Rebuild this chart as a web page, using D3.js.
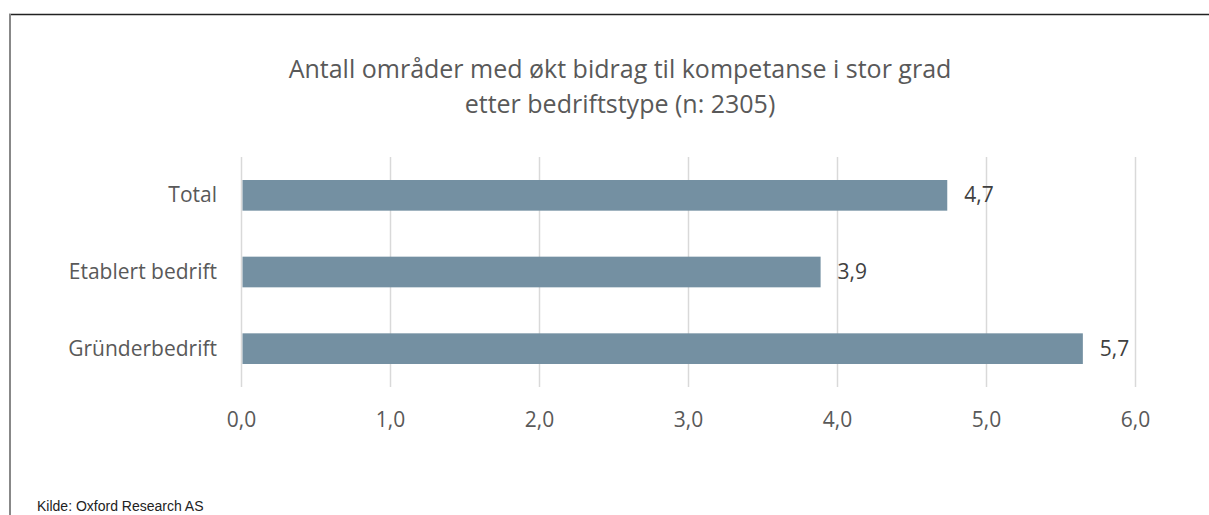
<!DOCTYPE html>
<html>
<head>
<meta charset="utf-8">
<script src="https://cdnjs.cloudflare.com/ajax/libs/d3/7.8.5/d3.min.js"></script>
<style>
  body { margin: 0; background: #fff; }
  #chart { width: 1209px; height: 515px; }
</style>
</head>
<body>
<div id="chart"></div>
<script>
var categories = ["Total", "Etablert bedrift", "Gründerbedrift"];
var values = [4.74, 3.89, 5.65];
var valueLabels = ["4,7", "3,9", "5,7"];
var xTicks = [0, 1, 2, 3, 4, 5, 6];
var titleLines = ["Antall områder med økt bidrag til kompetanse i stor grad", "etter bedriftstype (n: 2305)"];
var sourceText = "Kilde: Oxford Research AS";

var width = 1209, height = 515;
var font = "'Open Sans', 'Noto Sans', sans-serif";

var svg = d3.select("#chart")
  .append("svg")
  .attr("width", width)
  .attr("height", height);

// frame
svg.append("line")
  .attr("x1", 9).attr("x2", width).attr("y1", 14.5).attr("y2", 14.5)
  .attr("stroke", "#222").attr("stroke-width", 1.3);
svg.append("line")
  .attr("x1", 10).attr("x2", 10).attr("y1", 14).attr("y2", height)
  .attr("stroke", "#888").attr("stroke-width", 2);

var xScale = d3.scaleLinear().domain([0, 6]).range([241, 1135]);
var yScale = d3.scaleBand()
  .domain(categories)
  .range([157, 387])
  .paddingInner(0.6)
  .paddingOuter(0.3);

// gridlines
svg.append("g")
  .selectAll("line")
  .data(xTicks)
  .enter()
  .append("line")
  .attr("x1", d => xScale(d) + 0.5)
  .attr("x2", d => xScale(d) + 0.5)
  .attr("y1", 157)
  .attr("y2", 387)
  .attr("stroke", "#d9d9d9")
  .attr("stroke-width", 1.5);

// bars
svg.selectAll("rect.bar")
  .data(categories)
  .enter()
  .append("rect")
  .attr("class", "bar")
  .attr("x", xScale(0) + 1.5)
  .attr("y", d => yScale(d))
  .attr("width", (d, i) => xScale(values[i]) - xScale(0) - 1.5)
  .attr("height", yScale.bandwidth())
  .attr("fill", "#7490a2");

// value labels
svg.selectAll("text.val")
  .data(categories)
  .enter()
  .append("text")
  .attr("class", "val")
  .attr("x", (d, i) => xScale(values[i]) + 17)
  .attr("y", d => yScale(d) + yScale.bandwidth() / 2)
  .attr("dy", "0.33em")
  .attr("font-family", font)
  .attr("font-size", 21)
  .attr("fill", "#404040")
  .text((d, i) => valueLabels[i]);

// category labels
var yAxis = d3.axisLeft(yScale).tickSize(0).tickPadding(24);
var gy = svg.append("g")
  .attr("transform", "translate(241,0)")
  .call(yAxis);
gy.select(".domain").remove();
gy.selectAll("text")
  .attr("dy", "0.33em")
  .attr("font-family", font)
  .attr("font-size", 21)
  .attr("fill", "#595959");

// x axis labels
var xAxis = d3.axisBottom(xScale)
  .tickValues(xTicks)
  .tickSize(0)
  .tickPadding(0)
  .tickFormat(d => d3.format(".1f")(d).replace(".", ","));
var gx = svg.append("g")
  .attr("transform", "translate(0,412)")
  .call(xAxis);
gx.select(".domain").remove();
gx.selectAll("text")
  .attr("font-family", font)
  .attr("font-size", 21)
  .attr("fill", "#595959");

// title
svg.append("g")
  .selectAll("text")
  .data(titleLines)
  .enter()
  .append("text")
  .attr("x", 620)
  .attr("y", (d, i) => 78 + i * 35)
  .attr("text-anchor", "middle")
  .attr("font-family", font)
  .attr("font-size", 25)
  .attr("fill", "#595959")
  .text(d => d);

// source
svg.append("text")
  .attr("x", 37)
  .attr("y", 511)
  .attr("font-family", "'Liberation Sans Narrow', 'Arial Narrow', 'Liberation Sans', sans-serif")
  .attr("font-size", 14)
  .attr("fill", "#222")
  .text(sourceText);
</script>
</body>
</html>
